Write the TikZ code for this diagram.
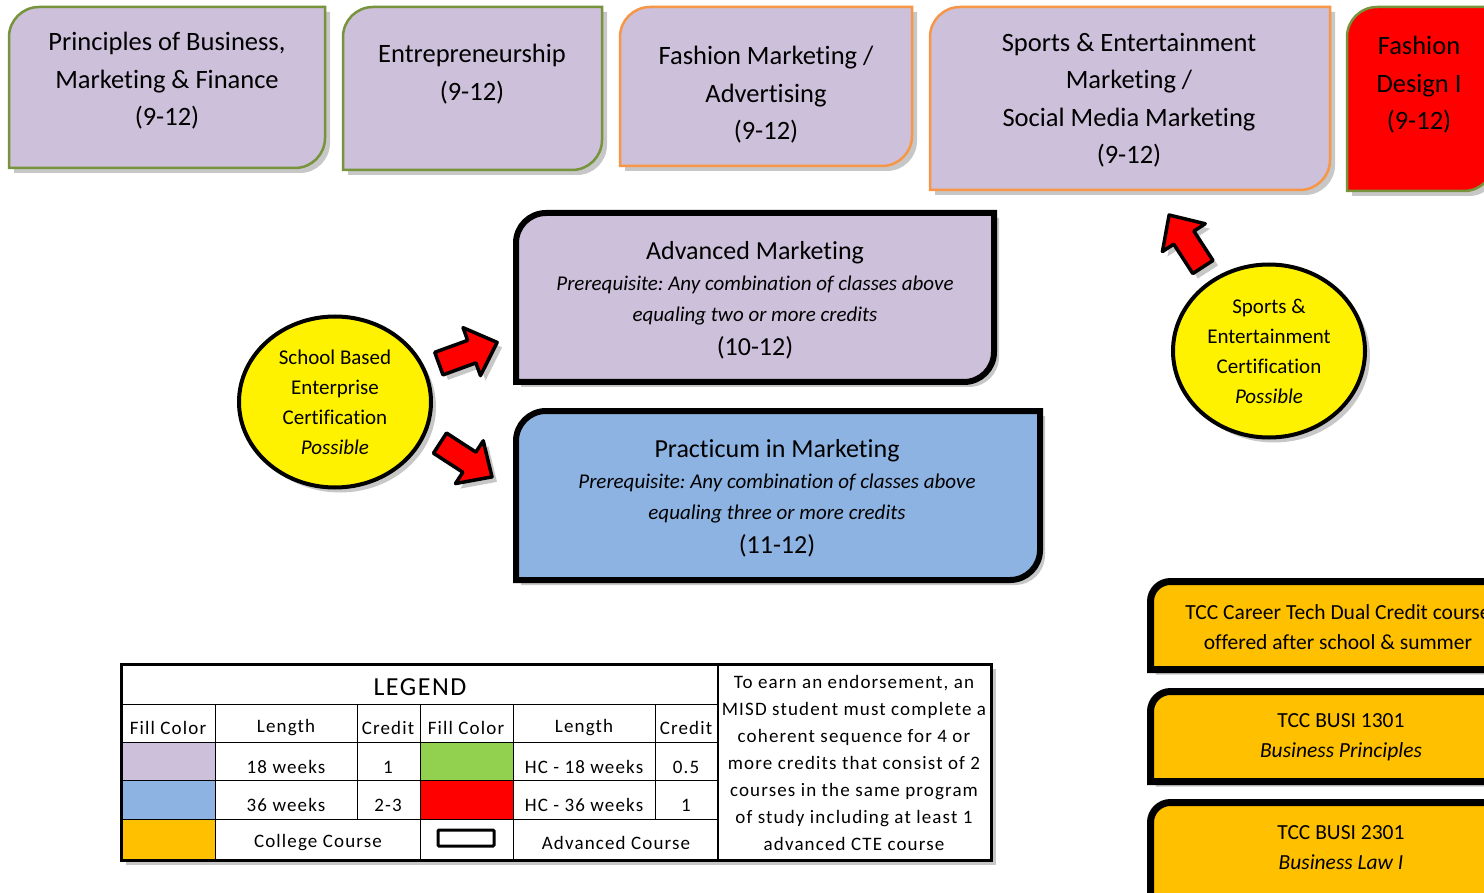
\documentclass[tikz,border=0pt]{standalone}
\usepackage{fontspec}
\setmainfont{Carlito}[Ligatures=NoCommon]
\newfontfamily\legendfont{Carlito}[LetterSpace=6,Ligatures=NoCommon]
\usetikzlibrary{shapes.geometric,shadows,positioning}
\frenchspacing

\definecolor{lavender}{HTML}{CCC0DA}
\definecolor{skyblue}{HTML}{8DB3E2}
\definecolor{olivegreen}{HTML}{77933C}
\definecolor{lightgreen}{HTML}{92D050}
\definecolor{tanorange}{HTML}{F79646}
\definecolor{gold}{HTML}{FFC000}

\tikzset{
  softshadow/.style={drop shadow={shadow xshift=5pt,shadow yshift=-5pt,opacity=.22,fill=black}},
  course/.style={fill=lavender,draw=olivegreen,line width=2.5pt,softshadow},
  special/.style={fill=lavender,draw=tanorange,line width=2.5pt,softshadow},
  advanced/.style={draw=black,line width=6pt,softshadow},
  college/.style={fill=gold,draw=black,line width=7pt,softshadow},
  cert/.style={ellipse,draw=black,fill=yellow,line width=4pt,softshadow,align=center,
    inner sep=0pt,font=\fontsize{21}{30}\selectfont},
  bigarrow/.style={draw=black,fill=red,line width=3.5pt,line join=round,softshadow},
  boxtext/.style={align=center,font=\fontsize{26.5}{37.5}\selectfont},
  prereq/.style={align=center,font=\fontsize{21}{31}\selectfont},
  dualtext/.style={align=center,font=\fontsize{21.5}{30}\selectfont},
  legendtext/.style={font=\legendfont\fontsize{19}{27}\selectfont},
}

% box with the top left and bottom right corners rounded
\newcommand{\roundbox}[6][]{%
  \path[#1] (#2,#3+#6) arc[start angle=180,end angle=270,radius=#6] -- (#4,#3)
    -- (#4,#5-#6) arc[start angle=0,end angle=90,radius=#6] -- (#2,#5) -- cycle;}
% fat red arrow: centre x, centre y, direction
\newcommand{\blockarrow}[3]{%
  \draw[bigarrow,shift={(#1,#2)},rotate=#3] (-31,-12) -- (4,-12) -- (4,-25.5) -- (31,0)
    -- (4,25.5) -- (4,12) -- (-31,12) -- cycle;}

\begin{document}
\begin{tikzpicture}[x=1pt,y=-1pt]
\useasboundingbox (0,0) rectangle (1484,893);
\fill[white] (0,0) rectangle (1484,893);
\clip (0,0) rectangle (1484,893);

% first year courses
\roundbox[course]{9}{7}{325}{168}{30}
\roundbox[course]{343}{7}{602}{170}{30}
\roundbox[special]{620}{7}{912}{166}{30}
\roundbox[special]{930}{7}{1330}{190}{30}
\roundbox[course,fill=red]{1347}{7}{1494}{191}{30}
\node[boxtext] (pbmf) at (167,81) {Principles of Business,\\Marketing \& Finance\\(9-12)};
\node[boxtext] (entre) at (472,74) {Entrepreneurship\\(9-12)};
\node[boxtext] (fashmkt) at (766,95) {Fashion Marketing /\\Advertising\\(9-12)};
\node[boxtext] (sportsmkt) at (1129,100) {Sports \& Entertainment\\Marketing /\\Social Media Marketing\\(9-12)};
\node[boxtext] (fashdes) at (1419,85) {Fashion\\Design I\\(9-12)};

% advanced courses
\roundbox[advanced,fill=lavender]{516}{213}{994}{382}{30}
\roundbox[advanced,fill=skyblue]{516}{411}{1040}{580}{30}
\node[prereq] (advmkt) at (755,300) {{\fontsize{26}{31}\selectfont Advanced Marketing}\\
  \textit{Prerequisite: Any combination of classes above}\\
  \textit{equaling two or more credits}\\[3pt]
  {\fontsize{26}{31}\selectfont (10-12)}};
\node[prereq] (practicum) at (777,498) {{\fontsize{26}{31}\selectfont Practicum in Marketing}\\
  \textit{Prerequisite: Any combination of classes above}\\
  \textit{equaling three or more credits}\\[3pt]
  {\fontsize{26}{31}\selectfont (11-12)}};

% certifications
\node[cert,minimum width=192pt,minimum height=171pt] (sbecert) at (335,402)
  {School Based\\Enterprise\\Certification\\\textit{Possible}};
\node[cert,minimum width=192pt,minimum height=173pt] (secert) at (1269,351)
  {Sports \&\\Entertainment\\Certification\\\textit{Possible}};
\blockarrow{468}{353}{20}
\blockarrow{466}{460}{-33}
\blockarrow{1186}{241}{123}

% dual credit courses
\roundbox[college]{1150.5}{581.5}{1533}{669.5}{20}
\roundbox[college]{1150.5}{691.5}{1533}{781.5}{20}
\roundbox[college]{1150.5}{802.5}{1533}{905}{20}
\node[dualtext] (tccdual) at (1338,627) {TCC Career Tech Dual Credit course\\offered after school \& summer};
\node[dualtext] (busi1301) at (1341,737) {TCC BUSI 1301\\\textit{Business Principles}};
\node[dualtext] (busi2301) at (1341,848) {TCC BUSI 2301\\\textit{Business Law I}};

% legend
\path[softshadow,fill=white] (121,664) rectangle (991,860);
\fill[lavender] (121,742) rectangle (215,780);
\fill[skyblue] (121,780) rectangle (215,819);
\fill[gold] (121,819) rectangle (215,860);
\fill[lightgreen] (420,742) rectangle (513,780);
\fill[red] (420,780) rectangle (513,819);
\foreach \y in {704,742,780,819}
  \draw[line width=1pt] (121,\y) -- (718,\y);
\foreach \x/\yb in {215/860,357/819,420/860,513/860,655/819}
  \draw[line width=1pt] (\x,704) -- (\x,\yb);
\draw[line width=1.5pt] (718,664) -- (718,860);
\draw[line width=3pt] (121,664) rectangle (991,860);
\draw[line width=3pt,rounded corners=1pt] (438,830) rectangle (494,846);

\node[legendtext,font=\legendfont\fontsize{26}{28}\selectfont] (legend) at (420,687) {LEGEND};
\foreach \x/\t [count=\i] in {168/Fill Color,286/Length,388/Credit,466/Fill Color,584/Length,686/Credit}
  \node[legendtext] (head\i) at (\x,728) {\t};
\foreach \x/\t [count=\i] in {286/18 weeks,388/1,584/HC - 18 weeks,686/0.5}
  \node[legendtext] (half\i) at (\x,767) {\t};
\foreach \x/\t [count=\i] in {286/36 weeks,388/2-3,584/HC - 36 weeks,686/1}
  \node[legendtext] (full\i) at (\x,805) {\t};
\node[legendtext] (collegecourse) at (318,843) {College Course};
\node[legendtext] (advcourse) at (616,843) {Advanced Course};
\node[legendtext,align=center] (endorse) at (854,763) {To earn an endorsement, an\\
  MISD student must complete a\\coherent sequence for 4 or\\more credits that consist of 2\\
  courses in the same program\\of study including at least 1\\advanced CTE course};
\end{tikzpicture}
\end{document}
